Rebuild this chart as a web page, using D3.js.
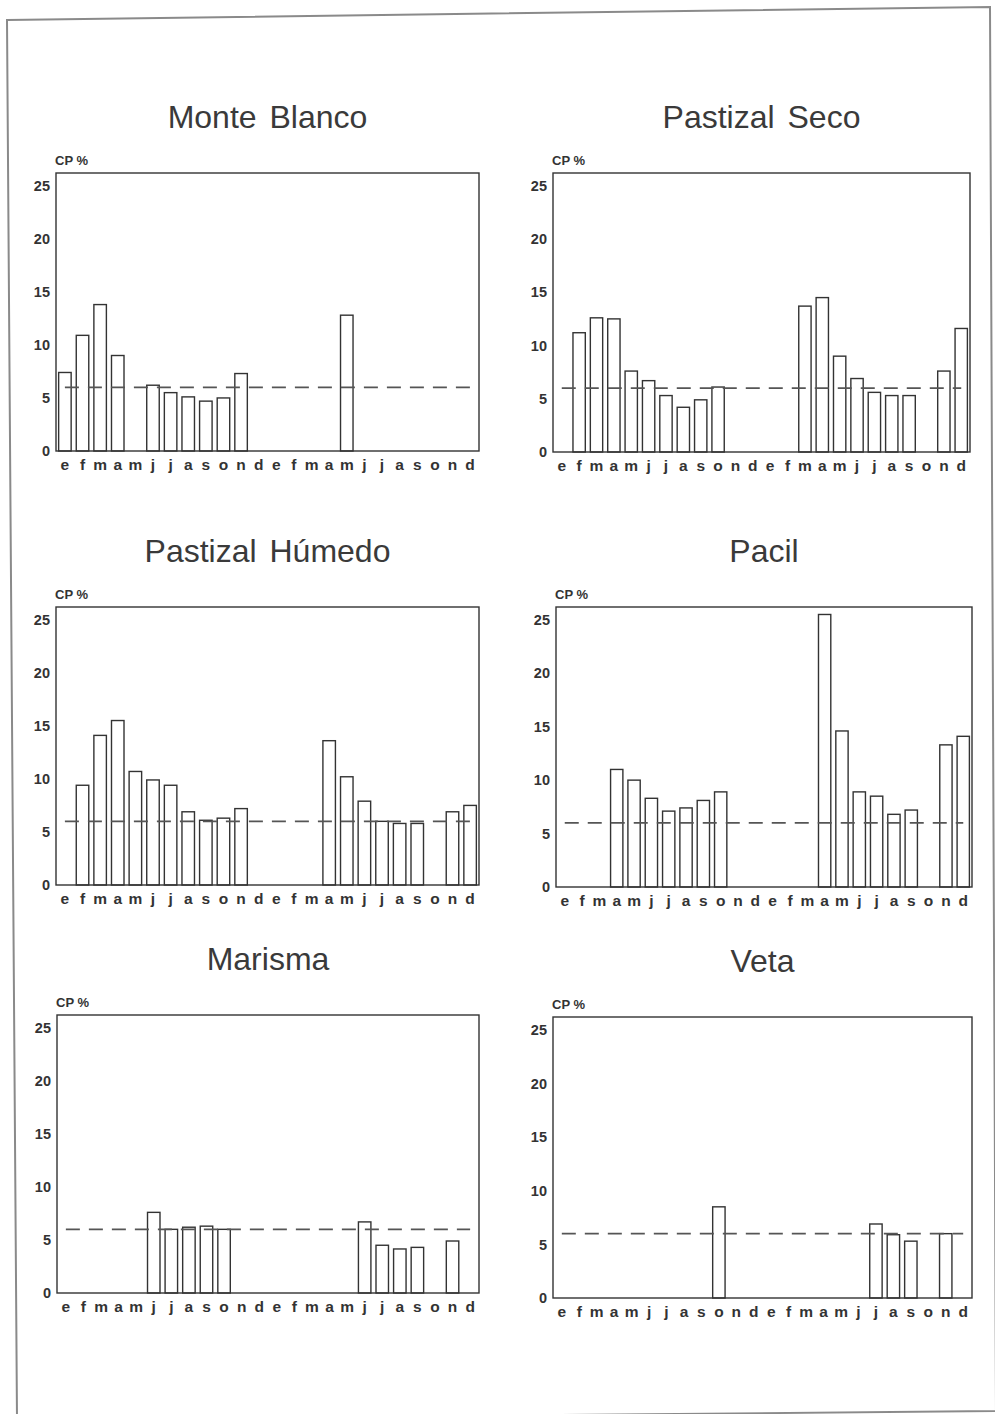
<!DOCTYPE html>
<html>
<head>
<meta charset="utf-8">
<script src="https://cdn.jsdelivr.net/npm/d3@7"></script>
<style>
  html, body { margin: 0; padding: 0; background: #fff; }
  svg { display: block; }
</style>
</head>
<body>
<svg id="page" width="995" height="1414"></svg>
<script>
// Two years of monthly sampling, Spanish month initials
const months = ["e","f","m","a","m","j","j","a","s","o","n","d",
                "e","f","m","a","m","j","j","a","s","o","n","d"];
const yTicks = [0, 5, 10, 15, 20, 25];
const referenceCP = 6;

// Crude protein (CP %) per month; null = no sample
const monteBlanco = [7.4, 10.9, 13.8, 9.0, null, 6.2, 5.5, 5.1, 4.7, 5.0, 7.3, null,
                     null, null, null, null, 12.8, null, null, null, null, null, null, null];
const pastizalSeco = [null, 11.2, 12.6, 12.5, 7.6, 6.7, 5.3, 4.2, 4.9, 6.1, null, null,
                      null, null, 13.7, 14.5, 9.0, 6.9, 5.6, 5.3, 5.3, null, 7.6, 11.6];
const pastizalHumedo = [null, 9.4, 14.1, 15.5, 10.7, 9.9, 9.4, 6.9, 6.1, 6.3, 7.2, null,
                        null, null, null, 13.6, 10.2, 7.9, 6.0, 5.8, 5.8, null, 6.9, 7.5];
const pacil = [null, null, null, 11.0, 10.0, 8.3, 7.1, 7.4, 8.1, 8.9, null, null,
               null, null, null, 25.5, 14.6, 8.9, 8.5, 6.8, 7.2, null, 13.3, 14.1];
const marisma = [null, null, null, null, null, 7.6, 6.0, 6.2, 6.3, 6.0, null, null,
                 null, null, null, null, null, 6.7, 4.5, 4.15, 4.3, null, 4.9, null];
const veta = [null, null, null, null, null, null, null, null, null, 8.5, null, null,
              null, null, null, null, null, null, 6.9, 5.9, 5.3, null, 6.0, null];

const panels = [
  { title: "Monte Blanco",    values: monteBlanco,    box: [56, 173, 479, 451] },
  { title: "Pastizal Seco",   values: pastizalSeco,   box: [553, 173, 970, 452] },
  { title: "Pastizal Húmedo", values: pastizalHumedo, box: [56, 607, 479, 885] },
  { title: "Pacil",           values: pacil,          box: [556, 607, 972, 887] },
  { title: "Marisma",         values: marisma,        box: [57, 1015, 479, 1293] },
  { title: "Veta",            values: veta,           box: [553, 1017, 972, 1298] }
];

const ink = "#333";
const font = "Liberation Sans, Arial, sans-serif";
const svg = d3.select("#page");

// sheet outline
svg.append("path")
  .attr("d", "M7,20 L990,7 L996,1411 L17,1420 Z")
  .attr("fill", "none")
  .attr("stroke", "#8a8a8a")
  .attr("stroke-width", 2);

panels.forEach(p => {
  const [x0, y0, x1, y1] = p.box;
  const x = d3.scaleBand().domain(d3.range(months.length)).range([x0, x1])
    .paddingInner(0.29).paddingOuter(0.15);
  const y = d3.scaleLinear().domain([0, 26.2]).range([y1, y0]);
  const g = svg.append("g").attr("font-family", font);

  // title
  g.append("text")
    .attr("x", (x0 + x1) / 2).attr("y", y0 - 45)
    .attr("text-anchor", "middle")
    .attr("font-size", 32).attr("fill", "#3a3a3a")
    .attr("word-spacing", 4)
    .text(p.title);

  // unit label
  g.append("text")
    .attr("x", x0 - 1).attr("y", y0 - 8)
    .attr("font-size", 13).attr("font-weight", "bold").attr("fill", ink)
    .text("CP %");

  // y axis labels only, no tick marks
  const yAxis = d3.axisLeft(y).tickValues(yTicks).tickSize(0).tickPadding(6);
  const ya = g.append("g").attr("transform", `translate(${x0},0)`).call(yAxis);
  ya.select(".domain").remove();
  ya.selectAll("text")
    .attr("font-family", font)
    .attr("font-size", 14.5).attr("font-weight", "bold").attr("fill", ink);

  // month labels
  const xAxis = d3.axisBottom(x).tickFormat(i => months[i]).tickSize(0).tickPadding(8);
  const xa = g.append("g").attr("transform", `translate(0,${y1})`).call(xAxis);
  xa.select(".domain").remove();
  xa.selectAll("text")
    .attr("font-family", font)
    .attr("font-size", 15.5).attr("font-weight", "bold").attr("fill", ink);

  // hollow bars
  const data = p.values.map((v, i) => ({ i, v })).filter(d => d.v != null);
  g.selectAll("rect.bar").data(data).join("rect")
    .attr("class", "bar")
    .attr("x", d => x(d.i))
    .attr("width", x.bandwidth())
    .attr("y", d => y(d.v))
    .attr("height", d => y(0) - y(d.v))
    .attr("fill", "none")
    .attr("stroke", ink)
    .attr("stroke-width", 1.4);

  // reference level
  g.append("line")
    .attr("x1", x(0) + x.bandwidth() / 2)
    .attr("x2", x(months.length - 1) + x.bandwidth() / 2)
    .attr("y1", y(referenceCP)).attr("y2", y(referenceCP))
    .attr("stroke", "#555").attr("stroke-width", 1.7)
    .attr("stroke-dasharray", "14 9");

  // frame
  g.append("rect")
    .attr("x", x0).attr("y", y0)
    .attr("width", x1 - x0).attr("height", y1 - y0)
    .attr("fill", "none").attr("stroke", ink).attr("stroke-width", 1.4);
});
</script>
</body>
</html>
